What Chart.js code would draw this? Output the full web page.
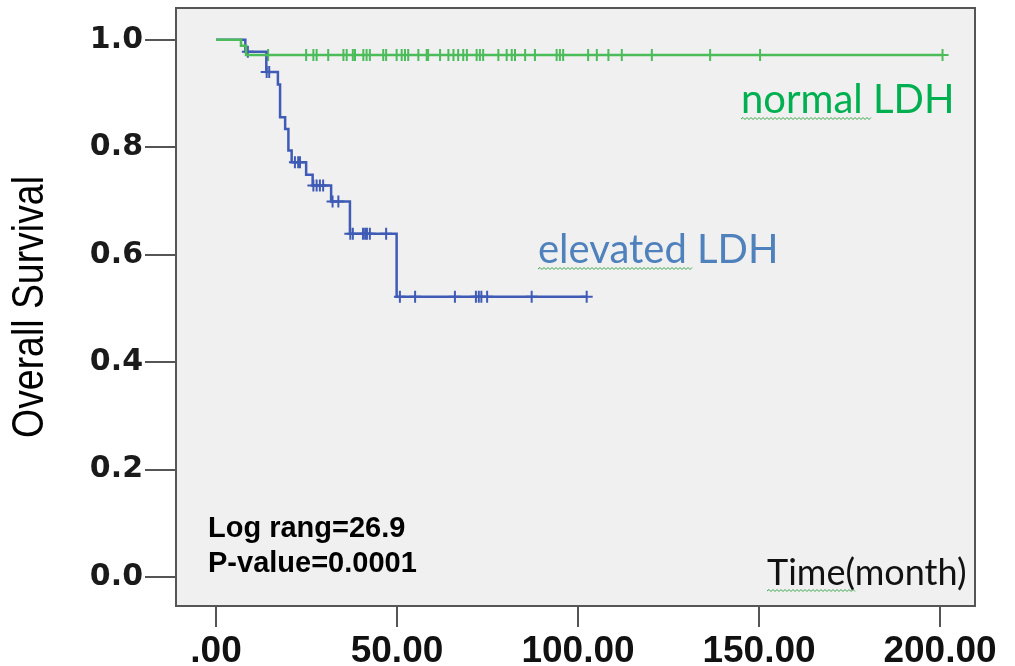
<!DOCTYPE html>
<html><head><meta charset="utf-8">
<script src="https://cdn.jsdelivr.net/npm/chart.js@4/dist/chart.umd.min.js"></script>
<style>html,body{margin:0;padding:0;background:#fff;}canvas{display:block;}</style>
</head><body>
<canvas id="c" width="1015" height="666"></canvas>
<script>
// ---- data ----
const normalEventTimes = [0, 6.9, 8.3];
const normalSurvival   = [1.0, 0.989, 0.972];
const normalCensorTimes = [14.4, 24.9, 26.9, 27.8, 31.0, 35.2, 36.1, 37.8, 38.4, 40.7, 41.6, 42.5, 46.2, 47.0, 49.9,
  51.3, 52.2, 53.1, 55.9, 58.2, 58.6, 61.9, 64.2, 65.6, 66.9, 68.3, 69.3, 72.0, 72.9, 73.8, 78.0, 80.3, 81.7, 82.6,
  85.4, 88.1, 94.1, 95.0, 95.9, 102.8, 105.2, 108.4, 112.1, 120.4, 136.5, 150.3, 200.7];

const elevatedEventTimes = [0, 8.1, 13.9, 17.1, 17.7, 19.1, 20.0, 20.9, 24.9, 26.7, 31.8, 37.0, 49.9];
const elevatedSurvival   = [1.0, 0.978, 0.94, 0.917, 0.856, 0.834, 0.794, 0.772, 0.749, 0.729, 0.699, 0.639, 0.522];
const elevatedCensorTimes = [8.8, 14.0, 14.7, 21.8, 22.7, 23.2, 26.9, 27.8, 28.7, 29.6, 32.2, 33.8, 37.1, 37.8,
  40.6, 41.2, 41.7, 42.5, 47.0, 50.8, 55.0, 66.0, 71.8, 72.6, 73.3, 74.9, 87.2, 102.4];

const xTickValues = [0, 50, 100, 150, 200];
const xTickLabels = ['.00', '50.00', '100.00', '150.00', '200.00'];
const yTickValues = [0, 0.2, 0.4, 0.6, 0.8, 1.0];
const yTickLabels = ['0.0', '0.2', '0.4', '0.6', '0.8', '1.0'];

const yAxisTitle = 'Overall Survival';
const xAxisTitle = 'Time(month)';
const normalLabel = 'normal LDH';
const elevatedLabel = 'elevated LDH';
const statLines = ['Log rang=26.9', 'P-value=0.0001'];

// ---- helpers building library data from the arrays ----
function survivalAt(times, surv, t) {
  let s = surv[0];
  for (let i = 0; i < times.length; i++) if (times[i] <= t) s = surv[i];
  return s;
}
function curve(times, surv, censors) {
  const pts = times.map((t, i) => ({x: t, y: surv[i]}));
  const last = Math.max(times[times.length - 1], ...censors);
  pts.push({x: last, y: surv[surv.length - 1]});
  return pts;
}
function censorPts(times, surv, censors) {
  return censors.map(t => ({x: t, y: survivalAt(times, surv, t)}));
}

const GREEN = '#4cbb5a';
const BLUE = '#3f5bb5';

const decor = {
  id: 'decor',
  beforeDraw(chart) {
    const {ctx, chartArea: a} = chart;
    ctx.save();
    ctx.fillStyle = '#ffffff';
    ctx.fillRect(0, 0, chart.width, chart.height);
    ctx.fillStyle = '#f0f0f0';
    ctx.fillRect(a.left, a.top, a.right - a.left, a.bottom - a.top);
    ctx.restore();
  },
  afterDraw(chart) {
    const {ctx, chartArea: a} = chart;
    ctx.save();
    ctx.strokeStyle = '#555555';
    ctx.lineWidth = 2;
    ctx.strokeRect(a.left, a.top, a.right - a.left, a.bottom - a.top);

    function squiggle(x1, x2, y) {
      ctx.save();
      ctx.strokeStyle = '#3aa64a';
      ctx.lineWidth = 1;
      ctx.beginPath();
      let up = true;
      ctx.moveTo(x1, y);
      for (let x = x1 + 2; x <= x2; x += 2) { ctx.lineTo(x, up ? y - 1.5 : y + 0.5); up = !up; }
      ctx.stroke();
      ctx.restore();
    }
    // y axis title (condensed face)
    ctx.save();
    ctx.translate(31, (a.top + a.bottom) / 2);
    ctx.rotate(-Math.PI / 2);
    ctx.scale(0.85, 1);
    ctx.font = '44px "Liberation Sans", Arial, sans-serif';
    ctx.fillStyle = '#000000';
    ctx.textAlign = 'center';
    ctx.textBaseline = 'middle';
    ctx.fillText(yAxisTitle, 0, 0);
    ctx.restore();

    ctx.textBaseline = 'alphabetic';
    ctx.textAlign = 'left';
    ctx.font = '40px Lato, "Open Sans", sans-serif';
    ctx.fillStyle = '#00b050';
    ctx.fillText(normalLabel, 741, 113);
    squiggle(741, 872, 119);
    ctx.fillStyle = '#4f81bd';
    ctx.fillText(elevatedLabel, 538, 263);
    squiggle(538, 693, 269);
    ctx.font = '36px Lato, "Open Sans", sans-serif';
    ctx.fillStyle = '#111111';
    ctx.fillText(xAxisTitle, 767, 585);
    squiggle(767, 855, 591);
    ctx.font = 'bold 29px "Liberation Sans", Arial, sans-serif';
    ctx.fillStyle = '#000000';
    ctx.fillText(statLines[0], 208, 537);
    ctx.fillText(statLines[1], 208, 572);
    ctx.restore();
  }
};

function noPad(s) { s.paddingTop = 0; s.paddingBottom = 0; s.paddingLeft = 0; s.paddingRight = 0; }

new Chart(document.getElementById('c'), {
  type: 'line',
  data: {
    datasets: [
      {label: normalLabel, data: curve(normalEventTimes, normalSurvival, normalCensorTimes),
       stepped: 'before', borderColor: GREEN, borderWidth: 2.5, pointRadius: 0, fill: false},
      {label: elevatedLabel, data: curve(elevatedEventTimes, elevatedSurvival, elevatedCensorTimes),
       stepped: 'before', borderColor: BLUE, borderWidth: 2.5, pointRadius: 0, fill: false},
      {label: normalLabel + ' censored', type: 'scatter', data: censorPts(normalEventTimes, normalSurvival, normalCensorTimes),
       pointStyle: 'cross', pointRadius: 6, borderColor: GREEN, backgroundColor: GREEN, pointBorderWidth: 2},
      {label: elevatedLabel + ' censored', type: 'scatter', data: censorPts(elevatedEventTimes, elevatedSurvival, elevatedCensorTimes),
       pointStyle: 'cross', pointRadius: 6, borderColor: BLUE, backgroundColor: BLUE, pointBorderWidth: 2}
    ]
  },
  options: {
    responsive: false,
    animation: false,
    devicePixelRatio: 1,
    layout: {padding: {top: 6, right: 40, left: 0, bottom: 0}},
    plugins: {legend: {display: false}, tooltip: {enabled: false}},
    scales: {
      x: {
        type: 'linear', min: -11.05, max: 209.67,
        afterBuildTicks: s => { s.ticks = xTickValues.map(v => ({value: v})); },
        afterFit: s => { s.height = 60; noPad(s); },
        grid: {drawOnChartArea: false, drawTicks: true, tickLength: 21, color: '#555555', lineWidth: 2},
        border: {display: false},
        ticks: {padding: 3, color: '#111111', font: {family: '"Liberation Sans", Arial, sans-serif', size: 37, weight: 'bold'},
                maxRotation: 0, autoSkip: false,
                callback: (v, i) => xTickLabels[i]}
      },
      y: {
        type: 'linear', min: -0.0537, max: 1.0593,
        afterBuildTicks: s => { s.ticks = yTickValues.map(v => ({value: v})); },
        afterFit: s => { s.width = 176; noPad(s); },
        grid: {drawOnChartArea: false, drawTicks: true, tickLength: 31, color: '#555555', lineWidth: 2},
        border: {display: false},
        title: {display: false, text: yAxisTitle},
        ticks: {padding: 2, color: '#1a1a1a', font: {family: '"DejaVu Sans", sans-serif', size: 30, weight: 'bold'},
                autoSkip: false, callback: (v, i) => yTickLabels[i]}
      }
    }
  },
  plugins: [decor]
});
</script>
</body></html>
